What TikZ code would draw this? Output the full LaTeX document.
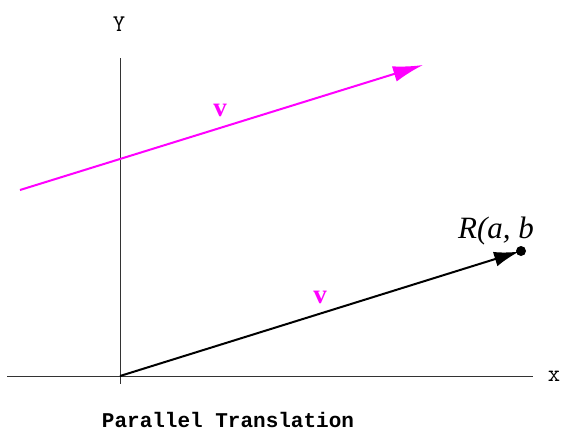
\documentclass[tikz,border=0pt]{standalone}
\usepackage{fontspec}
\setmainfont{Liberation Serif}
\setmonofont{Liberation Mono}
\newfontfamily\lmmono{Latin Modern Mono}
\usetikzlibrary{arrows.meta}
\definecolor{magn}{RGB}{255,0,255}
\begin{document}
\begin{tikzpicture}[x=1pt,y=-1pt,
  axis/.style={line width=0.8pt,black!80},
  vec/.style={line width=2pt},
  vlabel/.style={text=magn,font=\fontsize{27}{27}\selectfont\bfseries,inner sep=0pt},
  axlabel/.style={font=\lmmono\fontsize{24}{24}\selectfont,inner sep=0pt}]
\useasboundingbox (0,0) rectangle (561,432);
% axes
\coordinate (xl) at (7,376);
\coordinate (xr) at (533,376);
\coordinate (yt) at (120,58);
\coordinate (yb) at (120,384);
\coordinate (O) at (120,376);
\draw[axis] (xl) -- (xr);
\draw[axis] (yt) -- (yb);
\node[axlabel] (xlab) at (554,376) {x};
\node[axlabel] (ylab) at (119,24) {Y};
% magenta line
\coordinate (ms) at (20,190);
\coordinate (me) at (423,65);
\draw[vec,magn,-{Latex[length=30pt,width=16pt]}] (ms) -- (me);
\node[vlabel] (v1) at (220,110) {v};
% black vector
\node[circle,fill=black,inner sep=0pt,minimum size=10pt] (R) at (521,251) {};
\draw[vec,black,-{Latex[length=25pt,width=15pt]},shorten >=2pt] (O) -- (R.center);
\node[vlabel] (v2) at (320,297) {v};
\node[font=\fontsize{31}{31}\selectfont\itshape,inner sep=0pt] (Rl) at (496,231) {R(a, b};
% title
\node[font=\ttfamily\bfseries\fontsize{21}{21}\selectfont,inner sep=0pt] (title) at (228,420) {Parallel Translation};
\end{tikzpicture}
\end{document}
